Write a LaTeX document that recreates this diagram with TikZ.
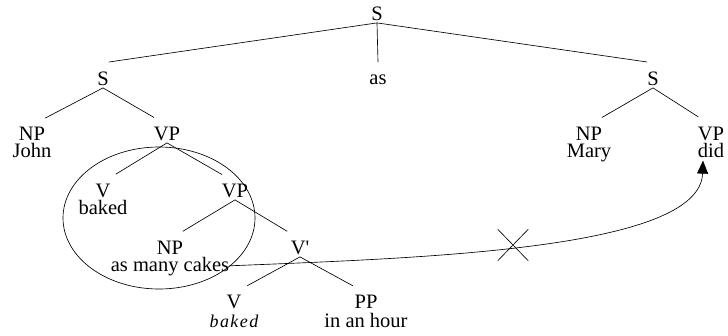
\documentclass[tikz,border=0pt]{standalone}
\usepackage{fontspec}
\setmainfont{Liberation Serif}
\newfontfamily\spacedit{Liberation Serif}[LetterSpace=8]
\usetikzlibrary{arrows.meta,shapes.misc}
\newcommand{\topstrut}{\rule[-2.5pt]{0pt}{17.5pt}}
\begin{document}
\begin{tikzpicture}[x=1pt,y=-1pt,
  lab/.style={anchor=north,inner sep=0pt,align=center,font=\fontsize{20.5}{17}\selectfont},
  branch/.style={line width=0.65pt,shorten >=15pt},
  topbranch/.style={line width=0.65pt},
  thinline/.style={line width=0.65pt},
]
\useasboundingbox (0,0) rectangle (728,335);

% nodes (position = top of label box, 15pt above the first baseline)
\node[lab] (s0) at (377,5) {\topstrut S};
\node[lab] (s1) at (103,70) {\topstrut S};
\node[lab] (as) at (378,69) {\topstrut as};
\node[lab] (s2) at (653,70) {\topstrut S};
\node[lab] (np1) at (32,125) {\topstrut NP\\John};
\node[lab] (vp1) at (167,125) {\topstrut VP};
\node[lab] (np2) at (589,125) {\topstrut NP\\Mary};
\node[lab] (vp2) at (711,125) {\topstrut VP\\did};
\node[lab] (v1) at (103,182) {\topstrut V\\baked};
\node[lab] (vp3) at (235,182) {\topstrut VP};
\node[lab] (np3) at (170,239) {\topstrut NP\\as many cakes};
\node[lab] (vbar) at (300,239) {\topstrut V\textquotesingle};
\node[lab] (v2) at (234,293) {\topstrut V\\[2pt]{\fontsize{18}{17}\selectfont\spacedit\itshape baked}};
\node[lab] (pp) at (366,293) {\topstrut PP\\[2pt]in an hour};

% branches
\draw[topbranch] (s0.south) -- ([yshift=8pt]s1.north east);
\draw[topbranch] (s0.south) -- ([yshift=7pt]as.north);
\draw[topbranch] (s0.south) -- ([yshift=8pt]s2.north west);
\draw[branch] (s1.south) -- (np1.north);
\draw[branch] (s1.south) -- (vp1.north);
\draw[branch] (s2.south) -- (np2.north);
\draw[branch] (s2.south) -- (vp2.north);
\draw[branch] (vp1.south) -- (v1.north);
\draw[branch] (vp1.south) -- (vp3.north);
\draw[branch] (vp3.south) -- (np3.north);
\draw[branch] (vp3.south) -- (vbar.north);
\draw[branch] (vbar.south) -- (v2.north);
\draw[branch] (vbar.south) -- (pp.north);

% ellipse
\draw[thinline] (159,218) ellipse [x radius=96pt, y radius=71pt];

% movement arrow
\coordinate (start) at ([yshift=10pt]np3.south east);
\coordinate (tip) at ([xshift=-8pt,yshift=-3pt]vp2.south);
\draw[thinline,-{Triangle[length=13pt,width=11pt]}] (start) .. controls (420,258) and (700,250) .. (tip);
\node[draw,cross out,thinline,minimum width=30pt,minimum height=31pt,inner sep=0pt] (xmark) at (513,245) {};
\end{tikzpicture}
\end{document}
